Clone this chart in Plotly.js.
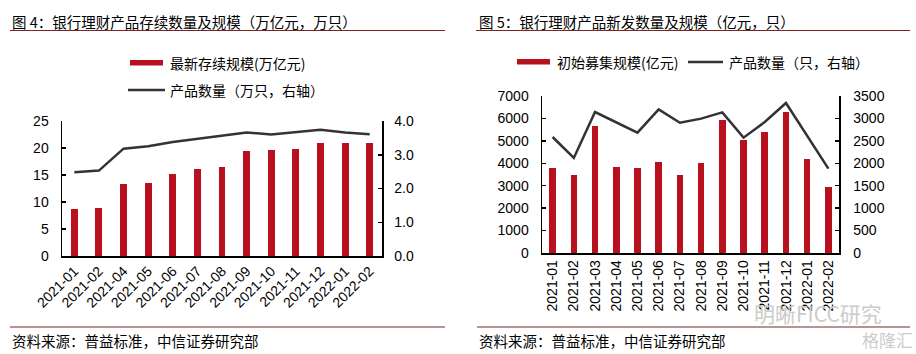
<!DOCTYPE html>
<html><head><meta charset="utf-8">
<script src="https://cdn.plot.ly/plotly-3.0.1.min.js"></script>
<style>html,body{margin:0;padding:0;background:#fff;} #chart{width:916px;height:354px;}</style>
</head><body><div id="chart"></div>
<script>
// ---- data ----
const leftCats = ['2021-01','2021-02','2021-04','2021-05','2021-06','2021-07','2021-08','2021-09','2021-10','2021-11','2021-12','2022-01','2022-02'];
const leftScale = [8.7, 8.9, 13.3, 13.5, 15.1, 16.2, 16.4, 19.4, 19.6, 19.9, 20.9, 21.0, 21.0];
const leftCount = [2.48, 2.53, 3.18, 3.25, 3.38, 3.47, 3.55, 3.66, 3.60, 3.68, 3.74, 3.66, 3.61];
const rightCats = ['2021-01','2021-02','2021-03','2021-04','2021-05','2021-06','2021-07','2021-08','2021-09','2021-10','2021-11','2021-12','2022-01','2022-02'];
const rightScale = [3790, 3460, 5660, 3830, 3790, 4060, 3460, 4010, 5930, 5020, 5390, 6290, 4190, 2940];
const rightCount = [2586, 2120, 3143, 2905, 2683, 3203, 2905, 2995, 3136, 2571, 2920, 3344, 2610, 1880];

const leftTitle = '图 4：银行理财产品存续数量及规模（万亿元，万只）';
const rightTitle = '图 5：银行理财产品新发数量及规模（亿元，只）';
const leftBarName = '最新存续规模(万亿元)';
const leftLineName = '产品数量（万只，右轴）';
const rightBarName = '初始募集规模(亿元)';
const rightLineName = '产品数量（只，右轴）';
const sourceText = '资料来源：普益标准，中信证券研究部';

// ---- style ----
const W = 916, H = 354;
const BAR = '#B8101E', LINE = '#333333', RULE = '#7A2424';
const NUM = 'Liberation Sans, Arial, sans-serif';
const CJK = 'Noto Sans CJK SC, sans-serif';
const px = x => x / W;
const py = y => 1 - y / H;

const traces = [
  {type:'bar', x:leftCats, y:leftScale, xaxis:'x', yaxis:'y', marker:{color:BAR}, width:0.28, name:leftBarName},
  {type:'scatter', mode:'lines', x:leftCats, y:leftCount, xaxis:'x', yaxis:'y2', line:{color:LINE, width:2.5}, name:leftLineName},
  {type:'bar', x:rightCats, y:rightScale, xaxis:'x2', yaxis:'y3', marker:{color:BAR}, width:0.31, name:rightBarName},
  {type:'scatter', mode:'lines', x:rightCats, y:rightCount, xaxis:'x2', yaxis:'y4', line:{color:LINE, width:2.5}, name:rightLineName}
];

const axLine = {showline:true, linecolor:'#000', linewidth:1.5, showgrid:false, zeroline:false,
  tickfont:{family:NUM, size:14, color:'#000'}};
const yAx = Object.assign({}, axLine, {ticks:'inside', ticklen:4, tickcolor:'#000', tickwidth:1.5});

const layout = {
  width:W, height:H, margin:{l:0,r:0,t:0,b:0},
  paper_bgcolor:'#fff', plot_bgcolor:'rgba(0,0,0,0)',
  showlegend:false, bargap:0,
  font:{family:NUM + ', ' + CJK, color:'#000'},
  xaxis: Object.assign({}, axLine, {domain:[px(62), px(382)], anchor:'y', type:'category', ticks:'', tickangle:-45}),
  yaxis: Object.assign({}, yAx, {domain:[py(256), py(121)], anchor:'x', range:[0,25], dtick:5, ticklabelstandoff:9}),
  yaxis2: Object.assign({}, yAx, {overlaying:'y', side:'right', anchor:'x', range:[0,4], dtick:1, tickformat:'.1f', ticklabelstandoff:8}),
  xaxis2: Object.assign({}, axLine, {domain:[px(542), px(839)], anchor:'y3', type:'category', ticks:'', tickangle:-90}),
  yaxis3: Object.assign({}, yAx, {domain:[py(253), py(96)], anchor:'x2', range:[0,7000], dtick:1000, ticklabelstandoff:9}),
  yaxis4: Object.assign({}, yAx, {overlaying:'y3', side:'right', anchor:'x2', range:[0,3500], dtick:500, ticklabelstandoff:10}),
  shapes: [
    {type:'line', xref:'paper', yref:'paper', x0:px(10), x1:px(445), y0:py(30.5), y1:py(30.5), line:{color:RULE, width:1}},
    {type:'line', xref:'paper', yref:'paper', x0:px(476), x1:px(910), y0:py(30.5), y1:py(30.5), line:{color:RULE, width:1}},
    {type:'line', xref:'paper', yref:'paper', x0:px(10), x1:px(445), y0:py(327), y1:py(327), line:{color:RULE, width:1}},
    {type:'line', xref:'paper', yref:'paper', x0:px(477), x1:px(910), y0:py(327), y1:py(327), line:{color:RULE, width:1}},
    {type:'rect', xref:'paper', yref:'paper', x0:px(130), x1:px(163), y0:py(65.5), y1:py(60), fillcolor:BAR, line:{width:0}},
    {type:'line', xref:'paper', yref:'paper', x0:px(128), x1:px(165), y0:py(90), y1:py(90), line:{color:LINE, width:2.5}},
    {type:'rect', xref:'paper', yref:'paper', x0:px(517), x1:px(550), y0:py(64.5), y1:py(59), fillcolor:BAR, line:{width:0}},
    {type:'line', xref:'paper', yref:'paper', x0:px(688), x1:px(723), y0:py(62), y1:py(62), line:{color:LINE, width:2.5}}
  ],
  annotations: [
    {text:leftTitle, x:px(10), y:py(21.5), font:{family:CJK, size:14.5, color:'#000'}},
    {text:rightTitle, x:px(477), y:py(21.5), font:{family:CJK, size:14.5, color:'#000'}},
    {text:leftBarName, x:px(168), y:py(63)},
    {text:leftLineName, x:px(168), y:py(90)},
    {text:rightBarName, x:px(555), y:py(62)},
    {text:rightLineName, x:px(727), y:py(62)},
    {text:sourceText, x:px(10), y:py(340), font:{family:CJK, size:14.5, color:'#000'}},
    {text:sourceText, x:px(477), y:py(340), font:{family:CJK, size:14.5, color:'#000'}},
    {text:'明晰FICC研究', x:px(752), y:py(313), font:{family:CJK, size:21, color:'#cccccc'}},
    {text:'格隆汇', x:px(860), y:py(339), font:{family:CJK, size:17, color:'#cccccc'}}
  ].map(a => Object.assign({xref:'paper', yref:'paper', xanchor:'left', yanchor:'middle', showarrow:false,
      font:{family:CJK, size:14, color:'#000'}}, a))
};

Plotly.newPlot('chart', traces, layout, {staticPlot:true, displayModeBar:false});
</script>
</body></html>
